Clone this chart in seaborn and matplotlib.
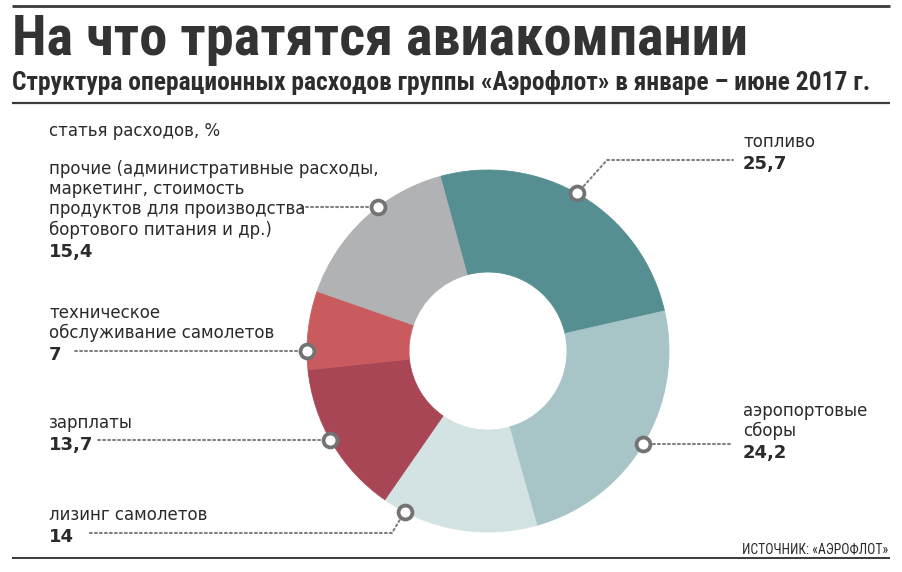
import numpy as np
import matplotlib

matplotlib.use("Agg")
import matplotlib.pyplot as plt
from matplotlib import font_manager
import seaborn as sns

# ----------------------------------------------------------------------
# Data: Aeroflot operating cost structure, Jan-Jun 2017, %
# ----------------------------------------------------------------------
categories = [
    "топливо",
    "аэропортовые сборы",
    "лизинг самолетов",
    "зарплаты",
    "техническое обслуживание самолетов",
    "прочие",
]
shares = [25.7, 24.2, 14.0, 13.7, 7.0, 15.4]
share_labels = ["25,7", "24,2", "14", "13,7", "7", "15,4"]
label_lines = [
    ["топливо"],
    ["аэропортовые", "сборы"],
    ["лизинг самолетов"],
    ["зарплаты"],
    ["техническое", "обслуживание самолетов"],
    ["прочие (административные расходы,", "маркетинг, стоимость",
     "продуктов для производства", "бортового питания и др.)"],
]
colors = ["#568f91", "#a7c4c7", "#d3e2e3", "#a84656", "#c95b5f", "#b1b2b4"]

title = "На что тратятся авиакомпании"
subtitle = "Структура операционных расходов группы «Аэрофлот» в январе – июне 2017 г."
unit_note = "статья расходов, %"
source = "ИСТОЧНИК: «АЭРОФЛОТ»"

# ----------------------------------------------------------------------
# Layout (pixel coords, origin top-left)
# ----------------------------------------------------------------------
W, H = 902, 572
CX, CY, R_OUT, R_IN = 488, 351, 181, 79
START_DEG = 15.3  # first wedge starts this far left of 12 o'clock

# label x, value baseline y, marker angle (deg clockwise from top), leader bends
label_x = [743, 743, 49, 49, 49, 49]
value_y = [169, 458, 542, 450, 360, 257]
anchor_deg = [29.5, 120.8, 207.4, 240.6, 270.0, 322.6]
leader_pts = [
    [(607, 160), (733, 160)],
    [(733, None)],
    [(392, 533), (88, 533)],
    [(95, None)],
    [(72, None)],
    [(300, None)],
]
LINE_STEP = 20.5

INK = "#2a2a2a"
DOTS = "#7f7f7f"

sns.set_theme(style="white")
names = {f.name for f in font_manager.fontManager.ttflist}
narrow = next((n for n in ["Roboto Condensed", "Liberation Sans Narrow",
                           "DejaVu Sans Condensed"] if n in names), "DejaVu Sans")
plt.rcParams["font.family"] = ["DejaVu Sans"]


def Y(y):
    return H - y


fig = plt.figure(figsize=(W / 100, H / 100), dpi=100)
ax = fig.add_axes([0, 0, 1, 1])

wedges, _ = ax.pie(
    shares,
    colors=sns.color_palette(colors),
    startangle=90 + START_DEG,
    counterclock=False,
    radius=R_OUT,
    center=(CX, Y(CY)),
    wedgeprops=dict(width=R_OUT - R_IN, linewidth=0.6),
)
for w, c in zip(wedges, colors):
    w.set_edgecolor(c)

ax.set_xlim(0, W)
ax.set_ylim(0, H)
ax.set_aspect("auto")
ax.axis("off")

# leaders, markers and labels
for i in range(len(categories)):
    a = np.deg2rad(anchor_deg[i])
    mx = CX + R_OUT * np.sin(a)
    my = CY - R_OUT * np.cos(a)
    xs, ys = [mx], [my]
    for px, py in leader_pts[i]:
        xs.append(px)
        ys.append(my if py is None else py)
    ax.plot(xs, [Y(v) for v in ys], color=DOTS, lw=1.5,
            linestyle=(0, (0.9, 1.5)), dash_capstyle="round", zorder=3)
    ax.plot(mx, Y(my), "o", ms=10, mfc="white", mec="#737373", mew=2.7,
            zorder=4)

    ax.text(label_x[i], Y(value_y[i]), share_labels[i], fontsize=13,
            fontweight="bold", color=INK, va="baseline", ha="left", zorder=5)
    lines = label_lines[i]
    for k, line in enumerate(lines):
        yb = value_y[i] - 22 - LINE_STEP * (len(lines) - 1 - k)
        ax.text(label_x[i], Y(yb), line, fontsize=12, color=INK,
                va="baseline", ha="left", zorder=5)

ax.text(49, Y(136), unit_note, fontsize=12, color=INK, va="baseline")

# header
t_title = ax.text(12, Y(55), title, fontsize=34, fontweight="heavy",
                  family=[narrow, "DejaVu Sans"], color="#333333", va="baseline")
t_sub = ax.text(12, Y(90), subtitle, fontsize=16, fontweight="bold",
                family=[narrow, "DejaVu Sans"], color="#2d2d2d", va="baseline")
t_src = ax.text(888, Y(553), source, fontsize=9, family=[narrow, "DejaVu Sans"],
                color=INK, va="baseline", ha="right")

renderer = fig.canvas.get_renderer()
for t, target in [(t_title, 736), (t_sub, 858), (t_src, 146)]:
    w = t.get_window_extent(renderer).width
    t.set_fontsize(t.get_fontsize() * target / w)

# rules
for y, lw in [(6, 2.0), (103, 1.6), (558, 1.4)]:
    ax.plot([12, 890], [Y(y), Y(y)], color="#3a3a3a", lw=lw,
            solid_capstyle="butt")

fig.savefig("out.png", dpi=100)
